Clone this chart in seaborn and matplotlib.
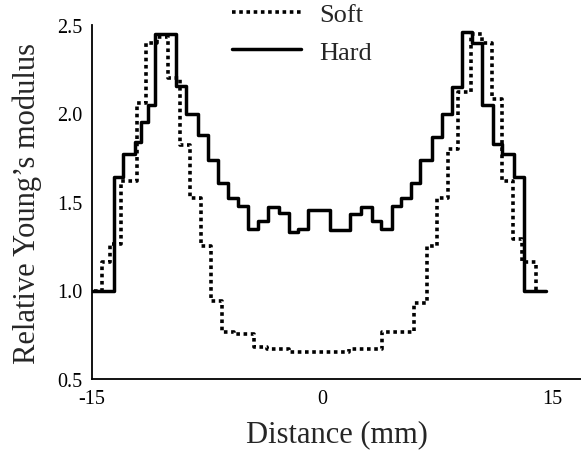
import matplotlib
matplotlib.use('Agg')
import matplotlib.pyplot as plt
import seaborn as sns
import pandas as pd

# step edges (mm) and levels
soft_x = [-14.87, -14.35, -13.83, -13.11, -12.07, -11.48, -10.76, -10.05, -9.26, -8.61,
          -7.89, -7.24, -6.52, -5.74, -4.44, -3.59, -2.15, 1.76, 3.91, 6.00,
          6.85, 7.50, 8.22, 8.87, 9.72, 10.44, 11.09, 11.74, 12.46, 13.05,
          13.96, 14.15]
soft_y = [1.00, 1.16, 1.26, 1.62, 2.06, 2.40, 2.43, 2.20, 1.82, 1.52,
          1.25, 0.94, 0.765, 0.755, 0.68, 0.67, 0.652, 0.67, 0.765, 0.93,
          1.25, 1.52, 1.80, 2.12, 2.45, 2.40, 2.08, 1.62, 1.29, 1.16,
          1.00, 1.00]

hard_x = [-15.0, -13.57, -12.98, -12.20, -11.80, -11.35, -10.89, -9.52, -8.87, -8.09,
          -7.44, -6.78, -6.13, -5.48, -4.83, -4.17, -3.52, -2.80, -2.15, -1.57,
          -0.91, 0.52, 1.83, 2.54, 3.26, 3.85, 4.57, 5.15, 5.81, 6.39,
          7.18, 7.83, 8.48, 9.13, 9.78, 10.44, 11.15, 11.74, 12.52, 13.18,
          14.61]
hard_y = [1.00, 1.64, 1.77, 1.84, 1.95, 2.05, 2.45, 2.155, 2.00, 1.88,
          1.74, 1.61, 1.52, 1.48, 1.35, 1.39, 1.47, 1.44, 1.33, 1.35,
          1.455, 1.34, 1.43, 1.47, 1.39, 1.35, 1.48, 1.52, 1.61, 1.74,
          1.87, 2.00, 2.15, 2.46, 2.40, 2.05, 1.83, 1.77, 1.64, 1.00,
          1.00]

x_ticks = [-15, 0, 15]
y_ticks = [0.5, 1.0, 1.5, 2.0, 2.5]

soft = pd.DataFrame({'x': soft_x, 'y': soft_y})
hard = pd.DataFrame({'x': hard_x, 'y': hard_y})

sns.set_style('ticks')
plt.rcParams['font.family'] = ['Liberation Serif', 'DejaVu Serif']

fig = plt.figure(figsize=(5.81, 4.56), dpi=100)
ax = fig.add_axes([92 / 581, 1 - 380 / 456, 1 - 92 / 581, (380 - 26) / 456])

sns.lineplot(data=soft, x='x', y='y', ax=ax, estimator=None, drawstyle='steps-post',
             color='black', lw=2.6, linestyle=(0, (1, 1)), dash_capstyle='butt', label='Soft')
sns.lineplot(data=hard, x='x', y='y', ax=ax, estimator=None, drawstyle='steps-post',
             color='black', lw=2.5, label='Hard')

ax.set_xlim(-15, 16.9)
ax.set_ylim(0.5, 2.5)
ax.set_xticks(x_ticks)
ax.set_yticks(y_ticks)
ax.set_yticklabels([f'{v:.1f}' for v in y_ticks])
ax.set_xticklabels(['-15', '0', '15'])
ax.tick_params(length=0, labelsize=14.5, pad=7, colors='black')

for side in ['top', 'right']:
    ax.spines[side].set_visible(False)
for side in ['left', 'bottom']:
    ax.spines[side].set_linewidth(1.3)
    ax.spines[side].set_color('black')

ax.set_xlabel('Distance (mm)', fontsize=22, labelpad=8)
ax.set_ylabel('Relative Young\u2019s modulus', fontsize=22, labelpad=11)

leg = ax.legend(loc='upper left', bbox_to_anchor=(232 / 581, 1 - 4 / 456),
                bbox_transform=fig.transFigure, frameon=False, fontsize=19,
                handlelength=2.6, handletextpad=0.7, labelspacing=0.52,
                borderpad=0, borderaxespad=0)

fig.savefig('out.png', dpi=100)
